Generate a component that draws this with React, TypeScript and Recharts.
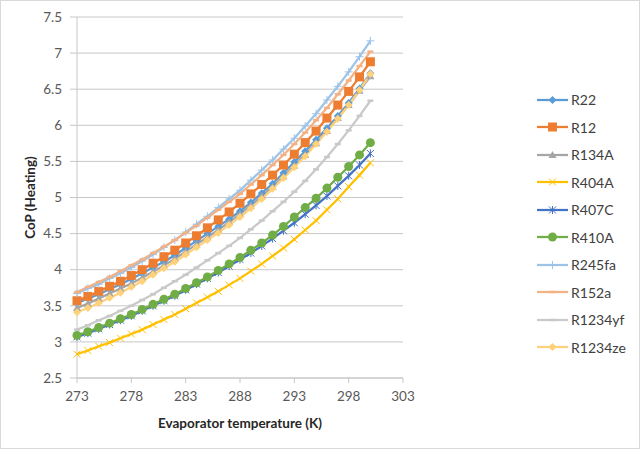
import { LineChart, Line, XAxis, YAxis, CartesianGrid, Legend, Label } from 'recharts';

// evaporator temperature (K), one point per kelvin
const temps = [
  273, 274, 275, 276, 277, 278, 279, 280, 281, 282, 283, 284, 285, 286,
  287, 288, 289, 290, 291, 292, 293, 294, 295, 296, 297, 298, 299, 300,
];

const r22 = [3.54, 3.6, 3.66, 3.73, 3.8, 3.87, 3.95, 4.03, 4.11, 4.2, 4.3, 4.4, 4.5, 4.6, 4.7, 4.81, 4.93, 5.06, 5.19, 5.34, 5.49, 5.64, 5.8, 5.96, 6.13, 6.31, 6.51, 6.72];
const r12 = [3.57, 3.63, 3.7, 3.77, 3.84, 3.92, 4.0, 4.09, 4.18, 4.27, 4.37, 4.47, 4.58, 4.69, 4.8, 4.92, 5.05, 5.18, 5.31, 5.45, 5.6, 5.76, 5.92, 6.1, 6.28, 6.47, 6.67, 6.88];
const r134a = [3.47, 3.53, 3.6, 3.67, 3.74, 3.81, 3.89, 3.97, 4.06, 4.15, 4.25, 4.35, 4.45, 4.55, 4.66, 4.77, 4.89, 5.02, 5.15, 5.29, 5.44, 5.59, 5.75, 5.92, 6.1, 6.28, 6.48, 6.68];
const r404a = [2.83, 2.88, 2.94, 2.99, 3.05, 3.11, 3.17, 3.24, 3.31, 3.38, 3.46, 3.54, 3.62, 3.7, 3.79, 3.88, 3.98, 4.08, 4.19, 4.3, 4.42, 4.55, 4.68, 4.83, 4.98, 5.15, 5.31, 5.48];
const r407c = [3.07, 3.12, 3.18, 3.24, 3.3, 3.36, 3.43, 3.5, 3.57, 3.64, 3.72, 3.8, 3.88, 3.96, 4.05, 4.14, 4.23, 4.33, 4.43, 4.54, 4.65, 4.77, 4.89, 5.02, 5.16, 5.3, 5.45, 5.61];
const r410a = [3.09, 3.14, 3.2, 3.26, 3.32, 3.38, 3.45, 3.52, 3.59, 3.66, 3.74, 3.82, 3.9, 3.99, 4.08, 4.17, 4.27, 4.37, 4.48, 4.6, 4.73, 4.86, 4.99, 5.13, 5.28, 5.43, 5.59, 5.76];
const r245fa = [3.67, 3.74, 3.8, 3.88, 3.95, 4.03, 4.12, 4.21, 4.31, 4.41, 4.52, 4.63, 4.74, 4.86, 4.98, 5.1, 5.24, 5.38, 5.52, 5.67, 5.82, 5.99, 6.16, 6.35, 6.54, 6.74, 6.95, 7.17];
const r152a = [3.69, 3.76, 3.83, 3.9, 3.98, 4.06, 4.14, 4.23, 4.32, 4.41, 4.51, 4.61, 4.72, 4.83, 4.94, 5.05, 5.18, 5.31, 5.45, 5.59, 5.74, 5.9, 6.07, 6.24, 6.43, 6.62, 6.82, 7.02];
const r1234yf = [3.17, 3.23, 3.3, 3.36, 3.43, 3.5, 3.58, 3.66, 3.75, 3.84, 3.93, 4.03, 4.13, 4.23, 4.33, 4.44, 4.56, 4.68, 4.81, 4.94, 5.08, 5.23, 5.39, 5.56, 5.74, 5.93, 6.13, 6.34];
const r1234ze = [3.41, 3.47, 3.54, 3.61, 3.68, 3.76, 3.84, 3.93, 4.02, 4.11, 4.21, 4.31, 4.41, 4.51, 4.62, 4.73, 4.85, 4.98, 5.12, 5.27, 5.42, 5.57, 5.74, 5.91, 6.09, 6.28, 6.49, 6.71];

const xTicks = [273, 278, 283, 288, 293, 298, 303];
const yTicks = [2.5, 3, 3.5, 4, 4.5, 5, 5.5, 6, 6.5, 7, 7.5];

type MarkerKind = 'diamond' | 'square' | 'triangle' | 'x' | 'star' | 'circle' | 'plus' | 'dash' | 'none';

const series: { key: string; values: number[]; color: string; marker: MarkerKind }[] = [
  { key: 'R22', values: r22, color: '#5B9BD5', marker: 'diamond' },
  { key: 'R12', values: r12, color: '#ED7D31', marker: 'square' },
  { key: 'R134A', values: r134a, color: '#A5A5A5', marker: 'triangle' },
  { key: 'R404A', values: r404a, color: '#FFC000', marker: 'x' },
  { key: 'R407C', values: r407c, color: '#4472C4', marker: 'star' },
  { key: 'R410A', values: r410a, color: '#70AD47', marker: 'circle' },
  { key: 'R245fa', values: r245fa, color: '#9DC3E6', marker: 'plus' },
  { key: 'R152a', values: r152a, color: '#F4B183', marker: 'dash' },
  { key: 'R1234yf', values: r1234yf, color: '#C9C9C9', marker: 'dash' },
  { key: 'R1234ze', values: r1234ze, color: '#FFD17A', marker: 'diamond' },
];

const data = temps.map((t, i) => {
  const row: Record<string, number> = { t };
  series.forEach((s) => {
    row[s.key] = s.values[i];
  });
  return row;
});

const FONT = 'Lato, "Open Sans", sans-serif';
const GRID = '#c8c8c8';

function Marker({ kind, cx, cy, color }: { kind: MarkerKind; cx: number; cy: number; color: string }) {
  if (cx == null || cy == null) return null;
  switch (kind) {
    case 'diamond':
      return <polygon points={`${cx},${cy - 4} ${cx + 4},${cy} ${cx},${cy + 4} ${cx - 4},${cy}`} fill={color} />;
    case 'square':
      return <rect x={cx - 4.5} y={cy - 4.5} width={9} height={9} fill={color} />;
    case 'triangle':
      return <polygon points={`${cx},${cy - 4} ${cx + 4},${cy + 3} ${cx - 4},${cy + 3}`} fill={color} />;
    case 'x':
      return (
        <g stroke={color} strokeWidth={1}>
          <line x1={cx - 3.5} y1={cy - 3.5} x2={cx + 3.5} y2={cy + 3.5} />
          <line x1={cx - 3.5} y1={cy + 3.5} x2={cx + 3.5} y2={cy - 3.5} />
        </g>
      );
    case 'star':
      return (
        <g stroke={color} strokeWidth={1}>
          <line x1={cx - 3.5} y1={cy - 3.5} x2={cx + 3.5} y2={cy + 3.5} />
          <line x1={cx - 3.5} y1={cy + 3.5} x2={cx + 3.5} y2={cy - 3.5} />
          <line x1={cx} y1={cy - 4} x2={cx} y2={cy + 4} />
        </g>
      );
    case 'circle':
      return <circle cx={cx} cy={cy} r={4.5} fill={color} />;
    case 'plus':
      return (
        <g stroke={color} strokeWidth={1}>
          <line x1={cx - 4} y1={cy} x2={cx + 4} y2={cy} />
          <line x1={cx} y1={cy - 4} x2={cx} y2={cy + 4} />
        </g>
      );
    case 'dash':
      return <line x1={cx - 3} y1={cy} x2={cx + 3} y2={cy} stroke={color} strokeWidth={2.5} />;
    default:
      return null;
  }
}

function LegendBox() {
  return (
    <div style={{ fontFamily: FONT, fontSize: 14, color: '#404040' }}>
      {series.map((s) => (
        <div key={s.key} style={{ display: 'flex', alignItems: 'center', height: 27.5 }}>
          <svg width={34} height={14} style={{ marginRight: 1 }}>
            <line x1={1} y1={7} x2={32} y2={7} stroke={s.color} strokeWidth={2.25} />
            <Marker kind={s.marker} cx={16.5} cy={7} color={s.color} />
          </svg>
          <span>{s.key}</span>
        </div>
      ))}
    </div>
  );
}

export default function App() {
  return (
    <div style={{ position: 'relative', width: 640, height: 449, background: '#fff' }}>
      <style>{'body{margin:0}'}</style>
      <LineChart
        width={640}
        height={449}
        data={data}
        margin={{ top: 17, right: 137, bottom: 41, left: 17 }}
        style={{ fontFamily: FONT }}
      >
        <CartesianGrid vertical={false} stroke={GRID} strokeWidth={1} />
        <XAxis
          dataKey="t"
          type="number"
          domain={[273, 303]}
          ticks={xTicks}
          height={30}
          stroke={GRID}
          tickSize={5}
          tickMargin={8}
          tick={{ fill: '#595959', fontSize: 13.5 }}
        >
          <Label
            value="Evaporator temperature (K)"
            position="bottom"
            offset={10}
            style={{ fontWeight: 'bold', fontSize: 13.5, fill: '#262626' }}
          />
        </XAxis>
        <YAxis
          type="number"
          domain={[2.5, 7.5]}
          ticks={yTicks}
          width={60}
          stroke={GRID}
          tickSize={7}
          tickMargin={8}
          tick={{ fill: '#595959', fontSize: 13.5 }}
          interval={0}
        >
          <Label
            value="CoP (Heating)"
            angle={-90}
            position="insideLeft"
            offset={13}
            style={{ fontWeight: 'bold', fontSize: 13.5, fill: '#262626', textAnchor: 'middle' }}
          />
        </YAxis>
        <Legend
          layout="vertical"
          align="right"
          verticalAlign="top"
          content={() => <LegendBox />}
          wrapperStyle={{ left: 536, top: 86, width: 100 }}
        />
        {series.map((s) => (
          <Line
            key={s.key}
            dataKey={s.key}
            stroke={s.color}
            strokeWidth={2.25}
            isAnimationActive={false}
            activeDot={false}
            dot={(p: any) => <Marker key={`${s.key}-${p.index}`} kind={s.marker} cx={p.cx} cy={p.cy} color={s.color} />}
          />
        ))}
      </LineChart>
      <div
        style={{
          position: 'absolute',
          inset: 0,
          border: '1px solid #d9d9d9',
          pointerEvents: 'none',
        }}
      />
    </div>
  );
}
